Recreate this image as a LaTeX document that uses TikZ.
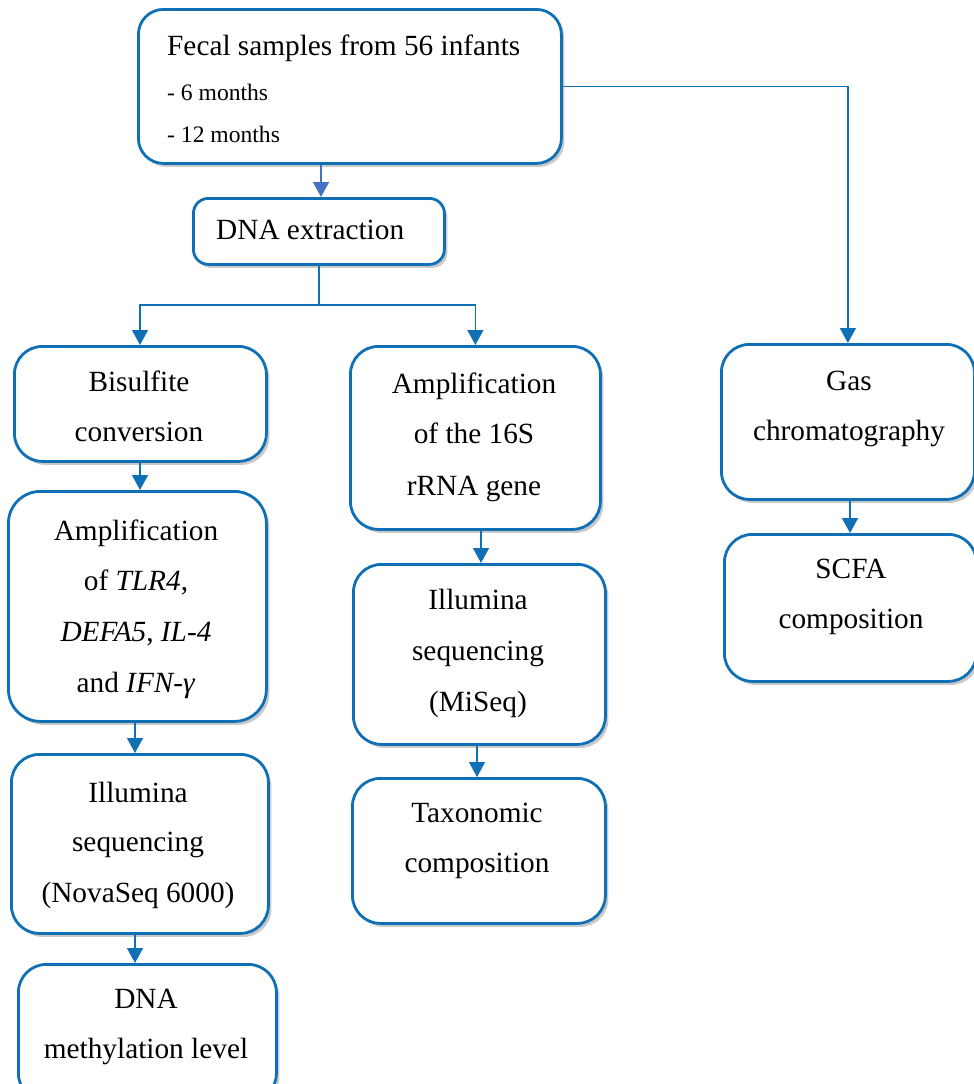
\documentclass[tikz,border=0pt]{standalone}
\usepackage{fontspec}
\setmainfont{Liberation Serif}
\usetikzlibrary{arrows.meta,shadows}
\definecolor{bord}{RGB}{16,112,182}
\definecolor{arrtop}{RGB}{68,114,196}
\tikzset{
 box/.style={draw=bord, line width=2.8pt, fill=white, rounded corners=28pt, anchor=north west, inner sep=0pt,
   drop shadow={shadow xshift=3pt, shadow yshift=-3.5pt, opacity=0.3, fill=black!70}},
 txt/.style={anchor=base, inner sep=0pt, font=\fontsize{29.3}{35}\selectfont},
 txtl/.style={anchor=base west, inner sep=0pt, font=\fontsize{29.3}{35}\selectfont},
 small/.style={anchor=base west, inner sep=0pt, font=\fontsize{23.6}{28}\selectfont},
 link/.style={draw=bord, line width=1.4pt},
 arr/.style={link, -{Triangle[width=16pt,length=15pt]}},
}
\begin{document}
\begin{tikzpicture}[x=1pt,y=-1pt]
\useasboundingbox (0,0) rectangle (974,1084);
% boxes
\node[box, rounded corners=25pt, minimum width=423pt, minimum height=154pt] (top) at (137,8) {};
\node[box, rounded corners=15pt, minimum width=251pt, minimum height=66pt] (dna) at (192,197) {};
\node[box, minimum width=252pt, minimum height=115pt] (bis) at (13,345) {};
\node[box, rounded corners=32pt, minimum width=258pt, minimum height=230pt] (tlr) at (7,490) {};
\node[box, minimum width=257pt, minimum height=179pt] (nova) at (10,753) {};
\node[box, minimum width=258pt, minimum height=137pt] (meth) at (17,963) {};
\node[box, minimum width=250pt, minimum height=183pt] (amp) at (349,345) {};
\node[box, minimum width=252pt, minimum height=180pt] (mis) at (352,563) {};
\node[box, minimum width=253pt, minimum height=145pt] (tax) at (351,777) {};
\node[box, minimum width=253pt, minimum height=155pt] (gas) at (720,343) {};
\node[box, minimum width=252pt, minimum height=147pt] (scfa) at (723,533) {};
% texts
\node[txtl] (t1a) at (167,55) {Fecal samples from 56 infants};
\node[small] (t1b) at (167,100) {- 6 months};
\node[small] (t1c) at (167,142) {- 12 months};
\node[txtl] (t2) at (216,239) {DNA extraction};
\node[txt] (t3a) at (139,391) {Bisulfite};
\node[txt] (t3b) at (139,441) {conversion};
\node[txt] (t4a) at (136,540) {Amplification};
\node[txt] (t4b) at (136,590) {of \textit{TLR4},};
\node[txt] (t4c) at (136,641) {\textit{DEFA5}, \textit{IL-4}};
\node[txt] (t4d) at (136,692) {and \textit{IFN-γ}};
\node[txt] (t5a) at (138,802) {Illumina};
\node[txt] (t5b) at (138,851) {sequencing};
\node[txt] (t5c) at (138,902) {(NovaSeq 6000)};
\node[txt] (t6a) at (146,1008) {DNA};
\node[txt] (t6b) at (146,1058) {methylation level};
\node[txt] (t7a) at (474,393) {Amplification};
\node[txt] (t7b) at (474,443) {of the 16S};
\node[txt] (t7c) at (474,495) {rRNA gene};
\node[txt] (t8a) at (478,609) {Illumina};
\node[txt] (t8b) at (478,660) {sequencing};
\node[txt] (t8c) at (478,711) {(MiSeq)};
\node[txt] (t9a) at (477,822) {Taxonomic};
\node[txt] (t9b) at (477,872) {composition};
\node[txt] (t10a) at (849,390) {Gas};
\node[txt] (t10b) at (849,440) {chromatography};
\node[txt] (t11a) at (851,578) {SCFA};
\node[txt] (t11b) at (851,628) {composition};
% connectors
\draw[arr, draw=arrtop] (top.south -| 321,0) -- (dna.north -| 321,0);
\draw[arr] (top.east) -| (gas.north);
\coordinate (br) at (dna.south |- 0,305);
\draw[link] (dna.south) -- (br);
\draw[arr] (br) -| (bis.north -| 140,0);
\draw[arr] (br) -| (amp.north);
\draw[arr] (bis.south -| 140,0) -- (tlr.north -| 140,0);
\draw[arr] (tlr.south -| 135,0) -- (nova.north -| 135,0);
\draw[arr] (nova.south -| 135,0) -- (meth.north -| 135,0);
\draw[arr] (amp.south -| 481,0) -- (mis.north -| 481,0);
\draw[arr] (mis.south -| 477,0) -- (tax.north -| 477,0);
\draw[arr] (gas.south -| 850,0) -- (scfa.north -| 850,0);
\end{tikzpicture}
\end{document}
